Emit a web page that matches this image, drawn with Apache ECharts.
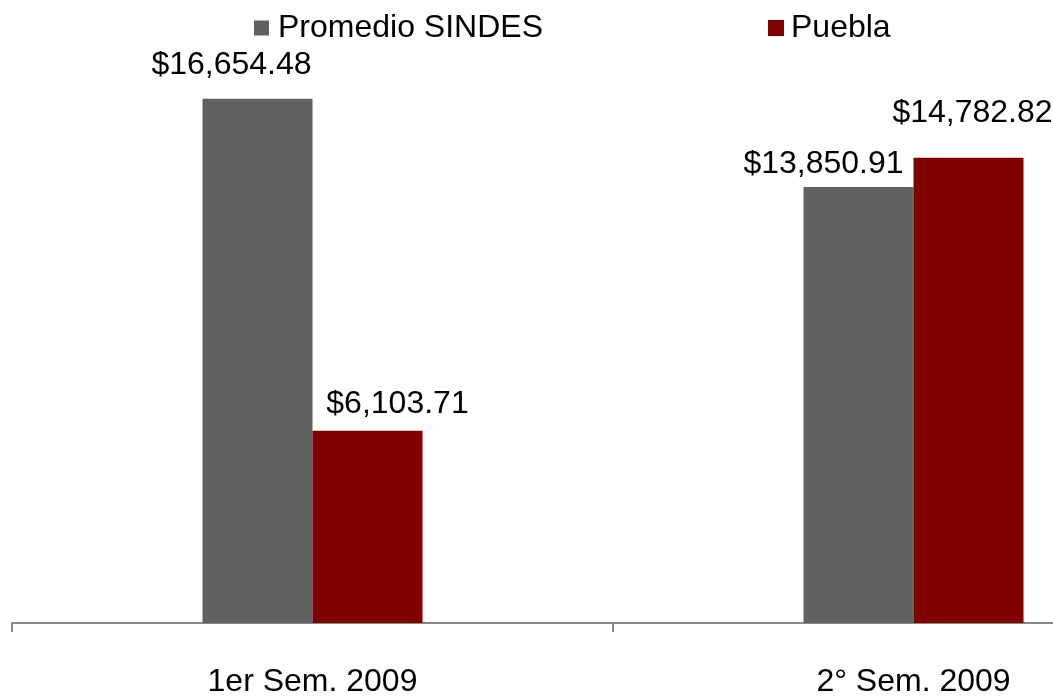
<!DOCTYPE html>
<html>
<head>
<meta charset="utf-8">
<script src="https://cdn.jsdelivr.net/npm/echarts@6/dist/echarts.min.js"></script>
<style>
html,body{margin:0;padding:0;background:#fff;overflow:hidden;width:1053px;height:698px;}
#chart{width:1214px;height:698px;}
</style>
</head>
<body>
<div id="chart"></div>
<script>
const categories = ['1er Sem. 2009', '2° Sem. 2009'];
const seriesNames = ['Promedio SINDES', 'Puebla'];
const promedioValues = [16654.48, 13850.91];
const pueblaValues = [6103.71, 14782.82];

const FONT = '"Liberation Sans", Arial, sans-serif';
const chart = echarts.init(document.getElementById('chart'));

function fmt(v) {
  return '$' + v.toLocaleString('en-US', {minimumFractionDigits: 2, maximumFractionDigits: 2});
}

// label offsets (style only), per category
const grayOffsets = [[-26, -18], [-35, -7]];
const redOffsets = [[30, -11], [4, -28]];

function buildData(values, offsets) {
  return values.map((v, i) => ({
    value: v,
    label: { offset: offsets[i] }
  }));
}

const labelBase = {
  show: true,
  position: 'top',
  distance: 0,
  color: '#000',
  fontSize: 32,
  fontFamily: FONT,
  formatter: p => fmt(p.value)
};

chart.setOption({
  animation: false,
  backgroundColor: '#fff',
  legend: [
    {
      data: [seriesNames[0]],
      left: 249, top: 7,
      itemWidth: 15, itemHeight: 15, itemGap: 0,
      icon: 'rect',
      textStyle: { fontSize: 32, fontFamily: FONT, color: '#000', padding: [0, 0, 0, 4] }
    },
    {
      data: [seriesNames[1]],
      left: 763, top: 7,
      itemWidth: 16, itemHeight: 16, itemGap: 0,
      icon: 'rect',
      textStyle: { fontSize: 32, fontFamily: FONT, color: '#000', padding: [0, 0, 0, 2] }
    }
  ],
  grid: { left: 12, right: 0, top: 56.4, bottom: 72, containLabel: false },
  xAxis: {
    type: 'category',
    data: categories,
    axisLine: { show: true, lineStyle: { color: '#898989', width: 2 } },
    axisTick: { show: true, length: 9, lineStyle: { color: '#898989', width: 2 } },
    axisLabel: { color: '#000', fontSize: 32, fontFamily: FONT, margin: 43 }
  },
  yAxis: {
    type: 'value',
    min: 0, max: 18000,
    show: false,
    splitLine: { show: false }
  },
  series: [
    {
      name: seriesNames[0],
      type: 'bar',
      data: buildData(promedioValues, grayOffsets),
      barWidth: 110,
      barGap: '0%',
      itemStyle: { color: '#616161' },
      label: labelBase
    },
    {
      name: seriesNames[1],
      type: 'bar',
      data: buildData(pueblaValues, redOffsets),
      barWidth: 110,
      barGap: '0%',
      itemStyle: { color: '#800000' },
      label: labelBase
    }
  ]
});
</script>
</body>
</html>
